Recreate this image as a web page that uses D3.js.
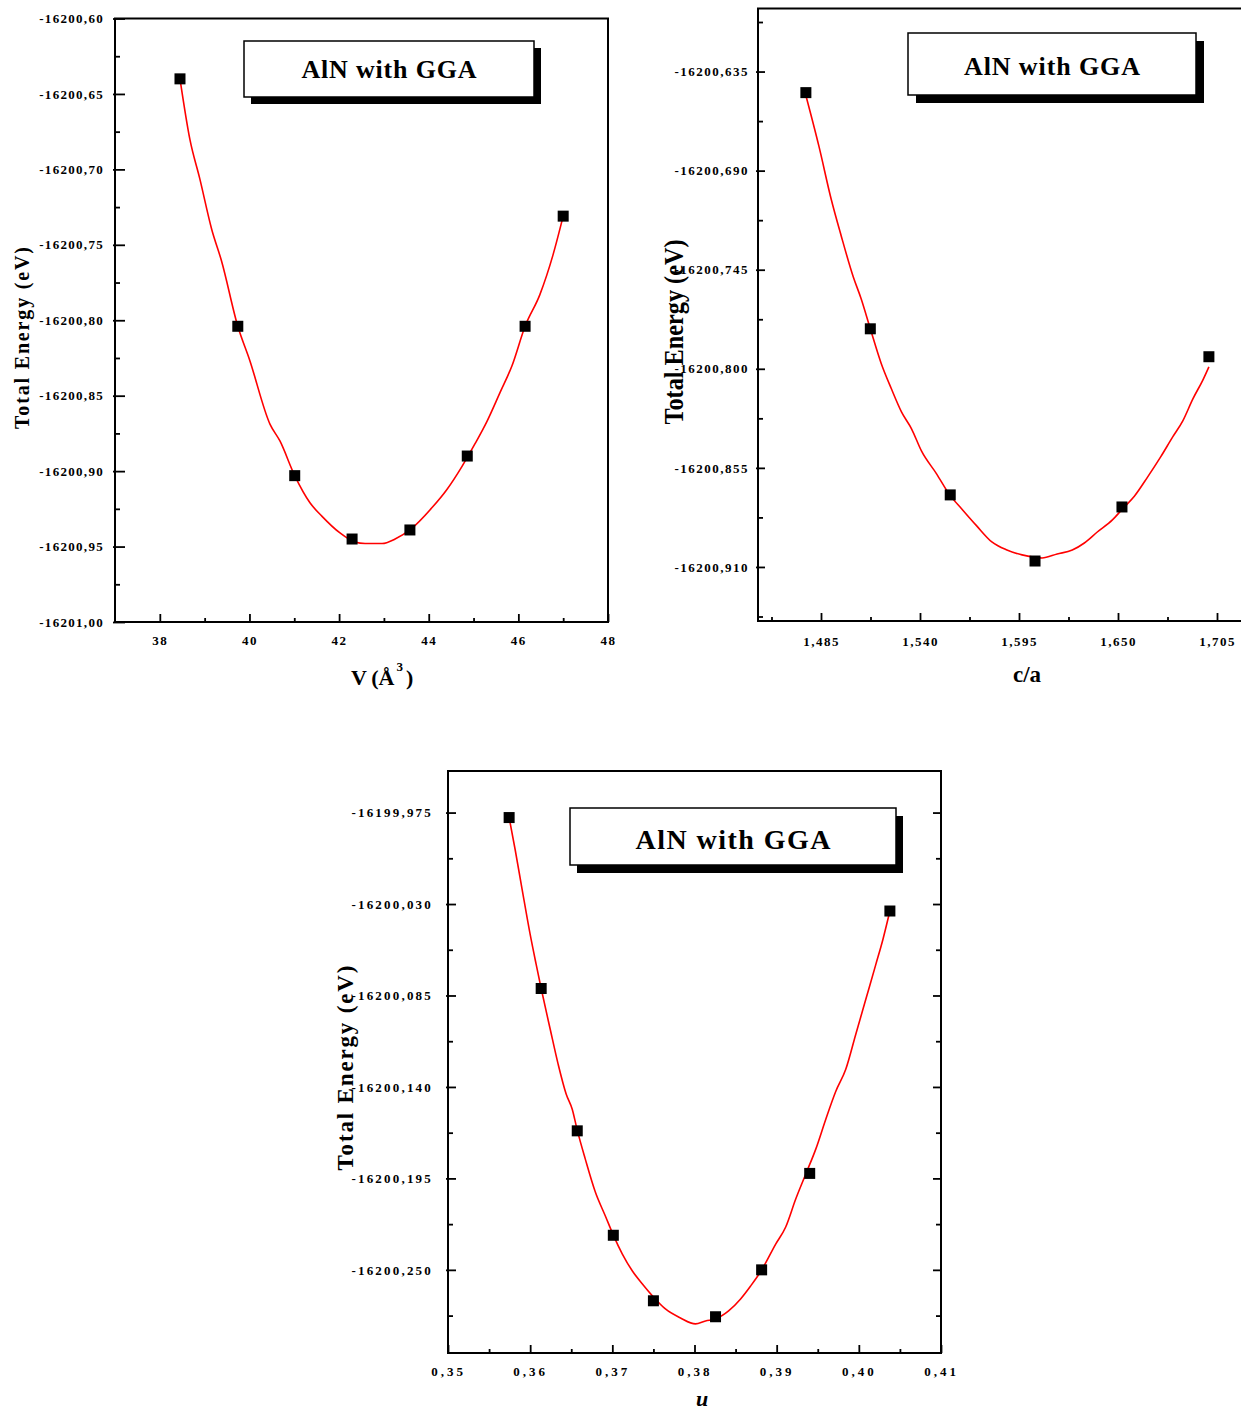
<!DOCTYPE html>
<html>
<head>
<meta charset="utf-8">
<script src="https://cdn.jsdelivr.net/npm/d3@7"></script>
<style>
  body { margin: 0; background: #fff; }
  svg { display: block; }
  text { font-family: "Liberation Serif", "Times New Roman", serif; font-weight: bold; }
</style>
</head>
<body>
<svg id="chart" width="1241" height="1413"></svg>
<script>
// ---- data ----

// panel 1: energy vs volume
const volume = [38.45, 39.74, 41.01, 42.29, 43.58, 44.86, 46.15, 47.0];
const energyV = [-16200.640, -16200.804, -16200.903, -16200.945, -16200.939, -16200.890, -16200.804, -16200.731];
const fitVolume = [38.45, 38.67, 38.89, 39.16, 39.38, 39.74, 40.0, 40.46, 40.68, 41.01, 41.35, 41.62, 42.02, 42.35, 42.58,
  42.96, 43.25, 43.58, 44.08, 44.41, 44.74, 45.03, 45.30, 45.59, 45.86, 46.15, 46.48, 46.77, 47.0];
const fitEnergyV = [-16200.640, -16200.680, -16200.706, -16200.740, -16200.761, -16200.804, -16200.826, -16200.869,
  -16200.880, -16200.903, -16200.921, -16200.930, -16200.941, -16200.947, -16200.948, -16200.948, -16200.945,
  -16200.939, -16200.924, -16200.912, -16200.897, -16200.882, -16200.867, -16200.848, -16200.830, -16200.804,
  -16200.783, -16200.757, -16200.731];
const volTicks = [38, 40, 42, 44, 46, 48];
const volMinor = [39, 41, 43, 45, 47];
const eVTicks = [-16200.60, -16200.65, -16200.70, -16200.75, -16200.80, -16200.85, -16200.90, -16200.95, -16201.00];
const eVMinor = [-16200.625, -16200.675, -16200.725, -16200.775, -16200.825, -16200.875, -16200.925, -16200.975];

// panel 2: energy vs c/a
const ratio = [1.4766, 1.5124, 1.5568, 1.6039, 1.6522, 1.7005];
const energyR = [-16200.6467, -16200.7778, -16200.8700, -16200.9067, -16200.8767, -16200.7933];
const fitRatio = [1.4766, 1.4839, 1.4906, 1.4962, 1.5029, 1.5073, 1.5124, 1.5185, 1.5241, 1.5297, 1.5353, 1.5408,
  1.5492, 1.5565, 1.5632, 1.5715, 1.5799, 1.5883, 1.5967, 1.6078, 1.6162, 1.6246, 1.6313, 1.6385, 1.6469, 1.6525,
  1.6592, 1.6665, 1.6737, 1.6804, 1.6860, 1.6916, 1.6972, 1.7005];
const fitEnergyR = [-16200.6483, -16200.6767, -16200.7056, -16200.7261, -16200.7489, -16200.7611, -16200.7778,
  -16200.7972, -16200.8111, -16200.8239, -16200.8333, -16200.8456, -16200.8583, -16200.8700, -16200.8778,
  -16200.8872, -16200.8961, -16200.9006, -16200.9033, -16200.9050, -16200.9028, -16200.9006, -16200.8967,
  -16200.8906, -16200.8839, -16200.8778, -16200.8706, -16200.8600, -16200.8489, -16200.8378, -16200.8289,
  -16200.8167, -16200.8061, -16200.7989];
const ratioTicks = [1.485, 1.540, 1.595, 1.650, 1.705];
const ratioMinor = [1.4575, 1.5125, 1.5675, 1.6225, 1.6775];
const eRTicks = [-16200.635, -16200.690, -16200.745, -16200.800, -16200.855, -16200.910];
const eRMinor = [-16200.6075, -16200.6625, -16200.7175, -16200.7725, -16200.8275, -16200.8825, -16200.9375];

// panel 3: energy vs internal parameter u
const uParam = [0.35744, 0.36134, 0.36573, 0.37012, 0.37500, 0.38256, 0.38817, 0.39402, 0.40378];
const energyU = [-16199.978, -16200.0808, -16200.1664, -16200.2292, -16200.2686, -16200.2782, -16200.2500,
  -16200.1920, -16200.0342];
const fitU = [0.35744, 0.35817, 0.35902, 0.36000, 0.36073, 0.36134, 0.36244, 0.36341, 0.36439, 0.36512, 0.36573,
  0.36671, 0.36793, 0.36915, 0.37012, 0.37122, 0.37244, 0.37366, 0.37500, 0.37646, 0.37829, 0.38012, 0.38134,
  0.38256, 0.38415, 0.38561, 0.38683, 0.38817, 0.38988, 0.39110, 0.39232, 0.39354, 0.39476, 0.39598, 0.39720,
  0.39841, 0.39963, 0.40085, 0.40207, 0.40293, 0.40378];
const fitEnergyU = [-16199.978, -16199.9972, -16200.0212, -16200.0483, -16200.0663, -16200.0808, -16200.1053,
  -16200.1264, -16200.1444, -16200.1534, -16200.1660, -16200.1834, -16200.2032, -16200.2176, -16200.2291,
  -16200.2405, -16200.2507, -16200.2585, -16200.2663, -16200.2735, -16200.2789, -16200.2825, -16200.2807,
  -16200.2795, -16200.2747, -16200.2675, -16200.2597, -16200.2501, -16200.2345, -16200.2242, -16200.2074,
  -16200.1924, -16200.1774, -16200.1594, -16200.1426, -16200.1294, -16200.1083, -16200.0873, -16200.0663,
  -16200.0513, -16200.0342];
const uTicks = [0.35, 0.36, 0.37, 0.38, 0.39, 0.40, 0.41];
const uMinor = [0.355, 0.365, 0.375, 0.385, 0.395, 0.405];
const eUTicks = [-16199.975, -16200.030, -16200.085, -16200.140, -16200.195, -16200.250];
const eUMinor = [-16200.0025, -16200.0575, -16200.1125, -16200.1675, -16200.2225, -16200.2775];

const legendText = "AlN with GGA";
const yTitle = "Total Energy (eV)";

// comma decimals, like the original
const loc = d3.formatLocale({ decimal: ",", thousands: ".", grouping: [3], currency: ["", ""], minus: "-" });

const svg = d3.select("#chart");

function panel(o) {
  const x = d3.scaleLinear().domain(o.xDomain).range([o.left, o.right]);
  const y = d3.scaleLinear().domain(o.yDomain).range([o.bottom, o.top]);
  const g = svg.append("g");

  // minor ticks first, then major with labels
  g.append("g").attr("transform", `translate(${o.left},0)`)
    .call(d3.axisLeft(y).tickValues(o.yMinor).tickSize(-5).tickFormat(""));
  const ya = g.append("g").attr("transform", `translate(${o.left},0)`)
    .call(d3.axisLeft(y).tickValues(o.yTicks).tickSize(-o.yMajorLen).tickPadding(o.yPad).tickFormat(loc.format(o.yFmt)));
  ya.selectAll(".tick line").attr("x1", -2); // major ticks poke out a little
  if (o.rightTicks) {
    g.append("g").attr("transform", `translate(${o.right},0)`)
      .call(d3.axisRight(y).tickValues(o.yMinor).tickSize(-5).tickFormat(""));
    g.append("g").attr("transform", `translate(${o.right},0)`)
      .call(d3.axisRight(y).tickValues(o.yTicks).tickSize(-o.yMajorLen).tickFormat(""));
  }
  g.append("g").attr("transform", `translate(0,${o.bottom})`)
    .call(d3.axisBottom(x).tickValues(o.xMinor).tickSize(-4).tickFormat(""));
  const xa = g.append("g").attr("transform", `translate(0,${o.bottom})`)
    .call(d3.axisBottom(x).tickValues(o.xTicks).tickSize(-8).tickPadding(o.xPad).tickFormat(loc.format(o.xFmt)));

  g.selectAll(".domain").remove();
  g.selectAll(".tick line").attr("stroke", "#000").attr("stroke-width", 1.8);
  g.selectAll("g").attr("font-family", null).attr("font-size", null);
  ya.selectAll("text").attr("font-size", 13).attr("letter-spacing", o.yLS).attr("fill", "#000");
  xa.selectAll("text").attr("font-size", 13).attr("letter-spacing", o.xLS).attr("fill", "#000");

  // frame
  g.append("rect")
    .attr("x", o.left).attr("y", o.top)
    .attr("width", o.right - o.left).attr("height", o.bottom - o.top)
    .attr("fill", "none").attr("stroke", "#000").attr("stroke-width", 2);

  // fitted curve
  const fit = o.fitX.map((v, i) => [v, o.fitY[i]]);
  g.append("path")
    .datum(fit)
    .attr("fill", "none").attr("stroke", "#ff0000").attr("stroke-width", 1.6)
    .attr("d", d3.line().x(d => x(d[0])).y(d => y(d[1])).curve(d3.curveMonotoneX));

  // data squares
  const pts = o.ptX.map((v, i) => [v, o.ptY[i]]);
  const s = 11;
  g.selectAll(null).data(pts).join("rect")
    .attr("x", d => x(d[0]) - s / 2).attr("y", d => y(d[1]) - s / 2)
    .attr("width", s).attr("height", s).attr("fill", "#000");

  // legend box with drop shadow
  const L = o.legend;
  g.append("rect").attr("x", L.x + L.dx).attr("y", L.y + L.dy)
    .attr("width", L.w).attr("height", L.h).attr("fill", "#000");
  g.append("rect").attr("x", L.x).attr("y", L.y)
    .attr("width", L.w).attr("height", L.h)
    .attr("fill", "#fff").attr("stroke", "#000").attr("stroke-width", 1.5);
  g.append("text")
    .attr("x", L.x + L.w / 2).attr("y", L.base)
    .attr("text-anchor", "middle").attr("font-size", L.fs)
    .attr("textLength", L.len).attr("lengthAdjust", "spacing")
    .text(legendText);

  // y title
  const T = o.yTitle;
  g.append("text")
    .attr("transform", `translate(${T.x},${T.y}) rotate(-90)`)
    .attr("text-anchor", "middle").attr("font-size", T.fs)
    .attr("textLength", T.len).attr("lengthAdjust", T.adjust)
    .text(yTitle);

  return g;
}

const p1 = panel({
  left: 115, right: 608, top: 18.5, bottom: 622,
  xDomain: [37, 48], yDomain: [-16201.00, -16200.60],
  xTicks: volTicks, xMinor: volMinor, yTicks: eVTicks, yMinor: eVMinor,
  xFmt: "d", yFmt: ".2f", yMajorLen: 10, yPad: 11, xPad: 14, yLS: 1.3, xLS: 1.5,
  fitX: fitVolume, fitY: fitEnergyV, ptX: volume, ptY: energyV,
  legend: { x: 244, y: 41, w: 290, h: 56, dx: 7, dy: 7, fs: 26, len: 175, base: 78 },
  yTitle: { x: 29, y: 338, fs: 20, len: 182, adjust: "spacing" }
});
p1.append("text").attr("x", 351).attr("y", 685).attr("font-size", 22)
  .text("V\u2009(Å").append("tspan").attr("font-size", 13).attr("dy", -14).attr("dx", 2).text("3");
p1.append("text").attr("x", 406).attr("y", 685).attr("font-size", 22).text(")");

const p2 = panel({
  left: 758, right: 1244, top: 8.5, bottom: 621,
  xDomain: [1.45, 1.72], yDomain: [-16200.94, -16200.60],
  xTicks: ratioTicks, xMinor: ratioMinor, yTicks: eRTicks, yMinor: eRMinor,
  xFmt: ".3f", yFmt: ".3f", yMajorLen: 7, yPad: 9, xPad: 16, yLS: 1.5, xLS: 1.5,
  fitX: fitRatio, fitY: fitEnergyR, ptX: ratio, ptY: energyR,
  legend: { x: 908, y: 33, w: 288, h: 62, dx: 8, dy: 8, fs: 26, len: 176, base: 75 },
  yTitle: { x: 683, y: 332, fs: 28, len: 185, adjust: "spacingAndGlyphs" }
});
p2.append("text").attr("x", 1027).attr("y", 682).attr("text-anchor", "middle")
  .attr("font-size", 23).text("c/a");

const p3 = panel({
  left: 448, right: 941, top: 771, bottom: 1353,
  xDomain: [0.35, 0.41], yDomain: [-16200.30, -16199.95],
  xTicks: uTicks, xMinor: uMinor, yTicks: eUTicks, yMinor: eUMinor, rightTicks: true,
  xFmt: ".2f", yFmt: ".3f", yMajorLen: 8, yPad: 15, xPad: 14, yLS: 2.2, xLS: 3,
  fitX: fitU, fitY: fitEnergyU, ptX: uParam, ptY: energyU,
  legend: { x: 570, y: 808, w: 326, h: 57, dx: 7, dy: 8, fs: 28, len: 195, base: 849 },
  yTitle: { x: 353, y: 1068, fs: 23, len: 205, adjust: "spacing" }
});
p3.append("text").attr("x", 702).attr("y", 1406).attr("text-anchor", "middle")
  .attr("font-size", 22).attr("font-style", "italic").text("u");
</script>
</body>
</html>
